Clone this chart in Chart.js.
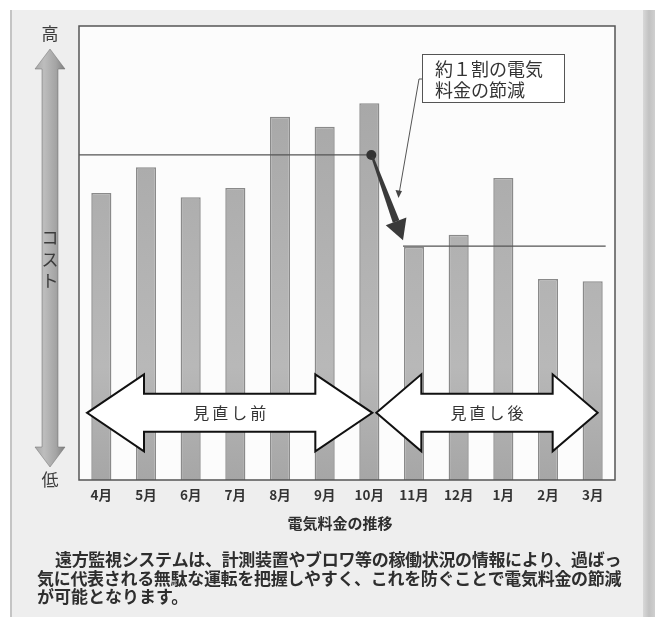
<!DOCTYPE html>
<html>
<head>
<meta charset="utf-8">
<script src="https://cdn.jsdelivr.net/npm/chart.js@4"></script>
<style>
  html, body { margin: 0; padding: 0; background: #fff; }
  #wrap { width: 655px; height: 617px; }
</style>
</head>
<body>
<div id="wrap"><canvas id="c" width="655" height="617"></canvas></div>
<script>
// ====== データ ======
// 月ごとの電気料金（相対値、縦軸は 低=0 ～ 高=100）
const months = ['4月', '5月', '6月', '7月', '8月', '9月', '10月', '11月', '12月', '1月', '2月', '3月'];
const costs = [63.2, 68.9, 62.3, 64.3, 80.0, 77.8, 83.0, 51.3, 54.0, 66.5, 44.3, 43.8];
// 見直し前 / 見直し後 の水準線
const levelBefore = 71.6;
const levelAfter = 51.5;
// 期間矢印の高さ（値）
const periodArrowLevel = 14.8;
const periodLabels = ['見直し前', '見直し後'];
const noteLines = ['約１割の電気', '料金の節減'];
const axisTop = '高', axisName = 'コスト', axisBottom = '低';
const chartTitle = '電気料金の推移';
const caption = [
    '遠方監視システムは、計測装置やブロワ等の稼働状況の情報により、過ばっ',
    '気に代表される無駄な運転を把握しやすく、これを防ぐことで電気料金の節減',
    'が可能となります。'
];

const JP = '"Noto Sans CJK JP", "Noto Sans", sans-serif';

// 紙面の背景とプロット領域の白地
const paperBg = {
    id: 'paperBg',
    beforeDraw(chart) {
        const { ctx, chartArea: a, width, height } = chart;
        ctx.save();
        ctx.fillStyle = '#ffffff'; ctx.fillRect(0, 0, width, height);
        ctx.fillStyle = '#eeeeee'; ctx.fillRect(11, 10, 634, height - 10);
        ctx.fillStyle = '#c4c4c4'; ctx.fillRect(10, 10, 2, height - 10);
        const g = ctx.createLinearGradient(643, 0, 655, 0);
        g.addColorStop(0, '#d8d8d8'); g.addColorStop(0.5, '#c2c2c2'); g.addColorStop(1, '#cfcfcf');
        ctx.fillStyle = g; ctx.fillRect(643, 10, 12, height - 10);
        ctx.fillStyle = '#fcfcfc'; ctx.fillRect(a.left, a.top, a.right - a.left, a.bottom - a.top);
        ctx.restore();
    }
};

// 両方向の白抜き矢印
function doubleArrow(ctx, x1, x2, cy, headLen, headHalf, shaftHalf) {
    ctx.beginPath();
    ctx.moveTo(x1, cy);
    ctx.lineTo(x1 + headLen, cy - headHalf);
    ctx.lineTo(x1 + headLen, cy - shaftHalf);
    ctx.lineTo(x2 - headLen, cy - shaftHalf);
    ctx.lineTo(x2 - headLen, cy - headHalf);
    ctx.lineTo(x2, cy);
    ctx.lineTo(x2 - headLen, cy + headHalf);
    ctx.lineTo(x2 - headLen, cy + shaftHalf);
    ctx.lineTo(x1 + headLen, cy + shaftHalf);
    ctx.lineTo(x1 + headLen, cy + headHalf);
    ctx.closePath();
    ctx.fillStyle = '#ffffff'; ctx.fill();
    ctx.lineWidth = 2; ctx.strokeStyle = '#111111'; ctx.lineJoin = 'miter'; ctx.stroke();
}

// 文字列を指定幅に合わせて描く
function fitText(ctx, text, x, xEnd, y) {
    const n = [...text].length;
    ctx.letterSpacing = '0px';
    const w = ctx.measureText(text).width;
    const sp = n > 1 ? (xEnd - x - w) / n : 0;
    ctx.letterSpacing = sp.toFixed(2) + 'px';
    ctx.fillText(text, x, y);
    ctx.letterSpacing = '0px';
}

const overlay = {
    id: 'overlay',
    afterDatasetsDraw(chart) {
        const { ctx, chartArea: a, scales: { x, y } } = chart;
        const yB = y.getPixelForValue(levelBefore);
        const yA = y.getPixelForValue(levelAfter);
        const x10 = x.getPixelForValue(6), x11 = x.getPixelForValue(7), x3 = x.getPixelForValue(11);
        ctx.save();

        // 水準線
        ctx.strokeStyle = '#555555'; ctx.lineWidth = 1.2;
        ctx.beginPath(); ctx.moveTo(a.left, yB); ctx.lineTo(x10, yB); ctx.stroke();
        ctx.beginPath(); ctx.moveTo(x11 - 11, yA); ctx.lineTo(x3 + 13, yA); ctx.stroke();

        // 点と太矢印
        ctx.fillStyle = '#333333';
        ctx.beginPath(); ctx.arc(x10 + 2, yB, 5, 0, Math.PI * 2); ctx.fill();
        const sx = x10 + 3, sy = yB + 2, tx = x11 - 11, ty = yA - 6;
        const L = Math.hypot(tx - sx, ty - sy), ux = (tx - sx) / L, uy = (ty - sy) / L;
        const headLen = 20, headHalf = 11;
        const bx = tx - ux * headLen, by = ty - uy * headLen;
        ctx.fillStyle = '#3a3a3a';
        // 先細りの軸
        ctx.beginPath();
        ctx.moveTo(sx - uy * 1.2, sy + ux * 1.2);
        ctx.lineTo(bx - uy * 3.5, by + ux * 3.5);
        ctx.lineTo(bx + uy * 3.5, by - ux * 3.5);
        ctx.lineTo(sx + uy * 1.2, sy - ux * 1.2);
        ctx.closePath(); ctx.fill();
        ctx.beginPath();
        ctx.moveTo(tx, ty);
        ctx.lineTo(bx - uy * headHalf, by + ux * headHalf);
        ctx.lineTo(bx + uy * headHalf, by - ux * headHalf);
        ctx.closePath(); ctx.fill();

        // 吹き出し
        const boxL = x11 + 8, boxT = a.top + 28, boxW = 142, boxH = 48;
        ctx.strokeStyle = '#555555'; ctx.lineWidth = 1;
        ctx.beginPath();
        ctx.moveTo(boxL, boxT + 25); ctx.lineTo(boxL - 3, boxT + 25);
        ctx.lineTo(x11 - 15, a.top + 168);
        ctx.stroke();
        ctx.fillStyle = '#444444';
        ctx.beginPath();
        ctx.moveTo(x11 - 15.5, a.top + 172);
        ctx.lineTo(x11 - 18.5, a.top + 164);
        ctx.lineTo(x11 - 12, a.top + 165);
        ctx.closePath(); ctx.fill();
        ctx.fillStyle = '#ffffff'; ctx.fillRect(boxL, boxT, boxW, boxH);
        ctx.strokeRect(boxL + 0.5, boxT + 0.5, boxW, boxH);
        ctx.fillStyle = '#333333'; ctx.font = '18px ' + JP;
        ctx.textAlign = 'left'; ctx.textBaseline = 'middle';
        ctx.fillText(noteLines[0], boxL + 13, boxT + 15);
        ctx.fillText(noteLines[1], boxL + 13, boxT + 36);

        // 期間の両矢印
        const yP = y.getPixelForValue(periodArrowLevel);
        const lx1 = a.left + 8, lx2 = x10 + 3, rx1 = x10 + 7, rx2 = x3 + 5;
        doubleArrow(ctx, lx1, lx2, yP, 57, 38.5, 19);
        doubleArrow(ctx, rx1, rx2, yP, 45, 38.5, 19);
        ctx.fillStyle = '#333333'; ctx.font = '16px ' + JP; ctx.textAlign = 'center';
        ctx.letterSpacing = '3px';
        ctx.fillText(periodLabels[0], (lx1 + lx2) / 2 + 1.5, yP);
        ctx.fillText(periodLabels[1], (rx1 + rx2) / 2 + 1.5, yP);
        ctx.letterSpacing = '0px';

        // 枠
        ctx.strokeStyle = '#555555'; ctx.lineWidth = 1.5;
        ctx.strokeRect(a.left, a.top, a.right - a.left, a.bottom - a.top);

        // 縦軸の両矢印（高 ～ 低）
        const ax = 50, aTop = a.top + 23, aBot = a.bottom - 13;
        const g = ctx.createLinearGradient(ax - 15, 0, ax + 15, 0);
        g.addColorStop(0, '#a8a8a8'); g.addColorStop(0.3, '#bdbdbd');
        g.addColorStop(0.7, '#a4a4a4'); g.addColorStop(1, '#808080');
        ctx.fillStyle = g;
        ctx.beginPath();
        ctx.moveTo(ax, aTop);
        ctx.lineTo(ax + 15, aTop + 20); ctx.lineTo(ax + 8, aTop + 20);
        ctx.lineTo(ax + 8, aBot - 20); ctx.lineTo(ax + 15, aBot - 20);
        ctx.lineTo(ax, aBot);
        ctx.lineTo(ax - 15, aBot - 20); ctx.lineTo(ax - 8, aBot - 20);
        ctx.lineTo(ax - 8, aTop + 20); ctx.lineTo(ax - 15, aTop + 20);
        ctx.closePath(); ctx.fill();
        ctx.strokeStyle = 'rgba(110,110,110,0.5)'; ctx.lineWidth = 1; ctx.stroke();

        ctx.fillStyle = '#3c3c3c'; ctx.font = '17px ' + JP;
        ctx.textAlign = 'center'; ctx.textBaseline = 'middle';
        ctx.fillText(axisTop, ax, a.top + 8);
        ctx.fillText(axisBottom, ax, a.bottom);
        [...axisName].forEach((ch, i) => ctx.fillText(ch, ax, 238 + i * 21.5));

        // 図題と説明文
        ctx.fillStyle = '#2e2e2e'; ctx.font = 'bold 15px ' + JP;
        ctx.fillText(chartTitle, 340, 523);
        ctx.font = 'bold 17px ' + JP; ctx.textAlign = 'left';
        fitText(ctx, caption[0], 55, 621, 560);
        fitText(ctx, caption[1], 37, 621, 578.5);
        ctx.fillText(caption[2], 37, 597);
        ctx.restore();
    }
};

const ctx = document.getElementById('c').getContext('2d');
new Chart(ctx, {
    type: 'bar',
    data: {
        labels: months,
        datasets: [{
            data: costs,
            backgroundColor: c => {
                const { ctx, chartArea } = c.chart;
                if (!chartArea) return '#ababab';
                const g = ctx.createLinearGradient(0, chartArea.top, 0, chartArea.bottom);
                g.addColorStop(0, '#a3a3a3'); g.addColorStop(0.55, '#b3b3b3');
                g.addColorStop(0.75, '#b8b8b8'); g.addColorStop(1, '#a6a6a6');
                return g;
            },
            borderColor: '#8a8a8a',
            borderWidth: 1.5,
            categoryPercentage: 1,
            barPercentage: 0.45
        }]
    },
    options: {
        responsive: false,
        animation: false,
        devicePixelRatio: 1,
        layout: { padding: { left: 79, right: 40, top: 26, bottom: 97 } },
        plugins: { legend: { display: false }, tooltip: { enabled: false } },
        scales: {
            x: {
                grid: { display: false, drawTicks: false },
                border: { display: false },
                ticks: { color: '#333333', padding: 7, font: { family: JP, size: 13.5, weight: 'bold' }, maxRotation: 0, autoSkip: false },
                afterFit(scale) { scale.height = 40; }
            },
            y: { display: false, min: 0, max: 100 }
        }
    },
    plugins: [paperBg, overlay]
});
</script>
</body>
</html>
